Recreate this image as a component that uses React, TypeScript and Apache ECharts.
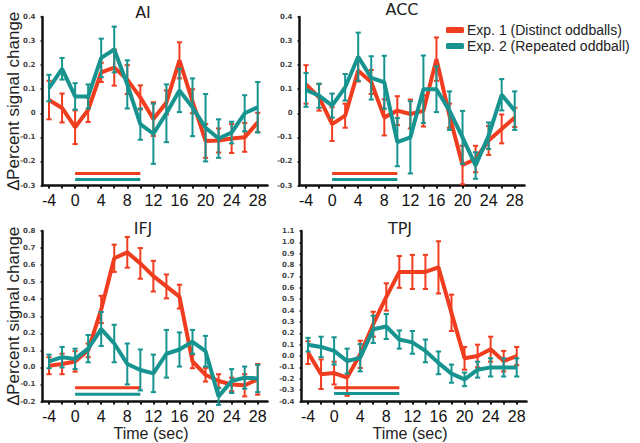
import React, { useEffect, useRef } from "react";
import * as echarts from "echarts";

const time = [-4, -2, 0, 2, 4, 6, 8, 10, 12, 14, 16, 18, 20, 22, 24, 26, 28];
const xLabelValues = [-4, 0, 4, 8, 12, 16, 20, 24, 28];

const aiRed = [0.055, 0.022, -0.058, 0.014, 0.17, 0.19, 0.14, 0.066, -0.024, 0.045, 0.22, 0.05, -0.115, -0.113, -0.105, -0.1, -0.038];
const aiRedErr = [0.08, 0.06, 0.07, 0.05, 0.04, 0.075, 0.06, 0.05, 0.07, 0.05, 0.075, 0.05, 0.07, 0.05, 0.06, 0.06, 0.04];
const aiTeal = [0.105, 0.185, 0.07, 0.07, 0.23, 0.265, 0.12, -0.045, -0.085, 0, 0.095, 0.025, -0.06, -0.105, -0.08, 0, 0.025];
const aiTealErr = [0.055, 0.045, 0.055, 0.05, 0.08, 0.095, 0.1, 0.065, 0.125, 0.12, 0.09, 0.12, 0.14, 0.08, 0.045, 0.075, 0.105];

const accRed = [0.12, 0.066, -0.045, -0.01, 0.177, 0.13, -0.017, 0.011, -0.003, 0.01, 0.225, -0.01, -0.215, -0.19, -0.113, -0.065, -0.017];
const accRedErr = [0.08, 0.055, 0.07, 0.05, 0.045, 0.05, 0.075, 0.06, 0.06, 0.065, 0.09, 0.05, 0.08, 0.055, 0.06, 0.06, 0.04];
const accTeal = [0.097, 0.073, 0.032, 0.108, 0.235, 0.147, 0.129, -0.12, -0.1, 0.1, 0.1, 0.011, -0.1, -0.217, -0.093, 0.077, 0.011];
const accTealErr = [0.07, 0.05, 0.05, 0.055, 0.1, 0.09, 0.11, 0.1, 0.15, 0.14, 0.095, 0.08, 0.11, 0.055, 0.055, 0.065, 0.08];

const ifjRed = [0.01, 0.02, 0.035, 0.1, 0.34, 0.64, 0.675, 0.61, 0.535, 0.475, 0.415, 0.035, -0.043, -0.08, -0.1, -0.105, -0.07];
const ifjRedErr = [0.05, 0.06, 0.06, 0.04, 0.08, 0.08, 0.09, 0.09, 0.09, 0.07, 0.07, 0.04, 0.04, 0.04, 0.04, 0.065, 0.09];
const ifjTeal = [0.035, 0.06, 0.05, 0.11, 0.225, 0.14, 0.02, -0.015, -0.035, 0.08, 0.105, 0.15, 0.095, -0.17, -0.08, -0.06, -0.065];
const ifjTealErr = [0.04, 0.06, 0.06, 0.08, 0.1, 0.11, 0.12, 0.12, 0.11, 0.14, 0.1, 0.07, 0.09, 0.05, 0.07, 0.065, 0.08];

const tpjRed = [0.03, -0.16, -0.15, -0.19, 0.015, 0.28, 0.52, 0.74, 0.74, 0.74, 0.78, 0.38, -0.02, 0.0, 0.06, -0.045, 0.0];
const tpjRedErr = [0.1, 0.13, 0.1, 0.16, 0.12, 0.11, 0.12, 0.14, 0.15, 0.15, 0.23, 0.16, 0.1, 0.1, 0.11, 0.09, 0.08];
const tpjTeal = [0.1, 0.08, 0.045, -0.045, -0.015, 0.235, 0.26, 0.145, 0.12, 0.045, -0.06, -0.155, -0.205, -0.12, -0.1, -0.1, -0.1];
const tpjTealErr = [0.06, 0.09, 0.12, 0.11, 0.12, 0.12, 0.11, 0.08, 0.1, 0.1, 0.1, 0.08, 0.06, 0.07, 0.08, 0.08, 0.08];

const stimOnset = 0;
const stimOffset = 10;
const stimLevelRed = [-0.25, -0.25, -0.12, -0.28];
const stimLevelTeal = [-0.275, -0.275, -0.157, -0.33];

const panelNames = ["AI", "ACC", "IFJ", "TPJ"];
const yMins = [-0.3, -0.3, -0.2, -0.4];
const yMaxs = [0.4, 0.4, 0.8, 1.1];

const NAME1 = "Exp. 1 (Distinct oddballs)";
const NAME2 = "Exp. 2 (Repeated oddball)";
const RED = "#f03d1f";
const TEAL = "#17948f";

function errRender(color: string) {
  return (params: any, api: any) => {
    const x = api.value(0);
    const lo = api.coord([x, api.value(1)]);
    const hi = api.coord([x, api.value(2)]);
    const cw = 2.6;
    const st = { stroke: color, lineWidth: 2 };
    return {
      type: "group",
      children: [
        { type: "line", shape: { x1: lo[0], y1: lo[1], x2: hi[0], y2: hi[1] }, style: st },
        { type: "line", shape: { x1: lo[0] - cw, y1: lo[1], x2: lo[0] + cw, y2: lo[1] }, style: st },
        { type: "line", shape: { x1: hi[0] - cw, y1: hi[1], x2: hi[0] + cw, y2: hi[1] }, style: st },
      ],
    };
  };
}

export default function App() {
  const ref = useRef<HTMLDivElement>(null);
  useEffect(() => {
    document.body.style.margin = "0";
    const chart = echarts.init(ref.current!, null, { renderer: "svg" });
    const data = [
      [aiRed, aiRedErr, aiTeal, aiTealErr],
      [accRed, accRedErr, accTeal, accTealErr],
      [ifjRed, ifjRedErr, ifjTeal, ifjTealErr],
      [tpjRed, tpjRedErr, tpjTeal, tpjTealErr],
    ];
    const grids = [
      { left: 42.5, top: 17, width: 225, height: 168.5 },
      { left: 299.5, top: 17, width: 225, height: 168.5 },
      { left: 42.5, top: 231, width: 225, height: 170.5 },
      { left: 301.5, top: 231, width: 225, height: 170.5 },
    ];
    const xAxes = grids.map((_, i) => ({
      type: "value",
      gridIndex: i,
      min: -5,
      max: 29.5,
      splitLine: { show: false },
      axisLine: { onZero: false, lineStyle: { color: "#111", width: 2.5 } },
      axisTick: { customValues: time, length: 3, inside: false, lineStyle: { color: "#111", width: 2 } },
      axisLabel: {
        customValues: xLabelValues,
        fontSize: 16,
        fontFamily: "Liberation Sans",
        color: "#111",
        margin: 7,
      },
    }));
    const yAxes = grids.map((_, i) => ({
      type: "value",
      gridIndex: i,
      min: yMins[i],
      max: yMaxs[i],
      interval: 0.1,
      splitLine: { show: false },
      axisLine: { onZero: false, lineStyle: { color: "#111", width: 2.5 } },
      axisTick: { length: 2, lineStyle: { color: "#111", width: 1.5 } },
      axisLabel: {
        fontSize: 7,
        fontWeight: "bold",
        fontFamily: "DejaVu Sans",
        color: "#444",
        margin: 7,
        formatter: (v: number) => {
          if (i < 2) return Math.abs(v) < 1e-9 ? "0" : String(Math.round(v * 10) / 10);
          return Math.abs(v) < 1e-9 ? "0.0" : (Math.round(v * 10) / 10).toFixed(1);
        },
      },
    }));
    const series: any[] = [];
    data.forEach(([red, redErr, teal, tealErr], i) => {
      series.push({
        type: "line",
        name: "stim1",
        xAxisIndex: i,
        yAxisIndex: i,
        data: [[stimOnset, stimLevelRed[i]], [stimOffset, stimLevelRed[i]]],
        showSymbol: false,
        lineStyle: { color: RED, width: 3 },
        itemStyle: { color: RED },
      });
      series.push({
        type: "line",
        name: "stim2",
        xAxisIndex: i,
        yAxisIndex: i,
        data: [[stimOnset, stimLevelTeal[i]], [stimOffset, stimLevelTeal[i]]],
        showSymbol: false,
        lineStyle: { color: TEAL, width: 3 },
        itemStyle: { color: TEAL },
      });
      series.push({
        type: "custom",
        name: "err1",
        xAxisIndex: i,
        yAxisIndex: i,
        renderItem: errRender(RED),
        encode: { x: 0, y: [1, 2] },
        data: time.map((t, k) => [t, red[k] - redErr[k], red[k] + redErr[k]]),
        z: 2,
      });
      series.push({
        type: "line",
        name: NAME1,
        xAxisIndex: i,
        yAxisIndex: i,
        data: time.map((t, k) => [t, red[k]]),
        showSymbol: false,
        lineStyle: { color: RED, width: 4 },
        itemStyle: { color: RED },
        z: 3,
      });
      series.push({
        type: "custom",
        name: "err2",
        xAxisIndex: i,
        yAxisIndex: i,
        renderItem: errRender(TEAL),
        encode: { x: 0, y: [1, 2] },
        data: time.map((t, k) => [t, teal[k] - tealErr[k], teal[k] + tealErr[k]]),
        z: 4,
      });
      series.push({
        type: "line",
        name: NAME2,
        xAxisIndex: i,
        yAxisIndex: i,
        data: time.map((t, k) => [t, teal[k]]),
        showSymbol: false,
        lineStyle: { color: TEAL, width: 4 },
        itemStyle: { color: TEAL },
        z: 5,
      });
    });
    const titlePos = [
      [143, 12],
      [402, 9],
      [143, 228],
      [400, 228],
    ];
    const graphic: any[] = panelNames.map((n, i) => ({
      type: "text",
      x: titlePos[i][0],
      y: titlePos[i][1],
      style: {
        text: n,
        align: "center",
        verticalAlign: "middle",
        fontSize: 16,
        fontFamily: "DejaVu Sans",
        fill: "#222",
      },
    }));
    [101, 316].forEach((cy) =>
      graphic.push({
        type: "text",
        x: 13.5,
        y: cy,
        rotation: Math.PI / 2,
        style: {
          text: "\u2206Percent signal change",
          align: "center",
          verticalAlign: "middle",
          fontSize: 17,
          fontFamily: "Liberation Sans",
          fill: "#222",
        },
      })
    );
    [151, 410].forEach((cx) =>
      graphic.push({
        type: "text",
        x: cx,
        y: 433,
        style: {
          text: "Time (sec)",
          align: "center",
          verticalAlign: "middle",
          fontSize: 16,
          fontFamily: "Liberation Sans",
          fill: "#222",
        },
      })
    );
    chart.setOption({
      animation: false,
      backgroundColor: "#fff",
      grid: grids,
      xAxis: xAxes,
      yAxis: yAxes,
      legend: {
        data: [NAME1, NAME2],
        orient: "vertical",
        left: 446,
        top: 23,
        padding: 0,
        itemGap: 2,
        itemWidth: 18,
        itemHeight: 6,
        icon: "roundRect",
        selectedMode: false,
        textStyle: { fontSize: 14, fontFamily: "Liberation Sans", color: "#222", padding: [0, 0, 0, -2] },
      },
      graphic,
      series,
    });
    return () => chart.dispose();
  }, []);
  return <div ref={ref} style={{ width: 640, height: 443 }} />;
}
